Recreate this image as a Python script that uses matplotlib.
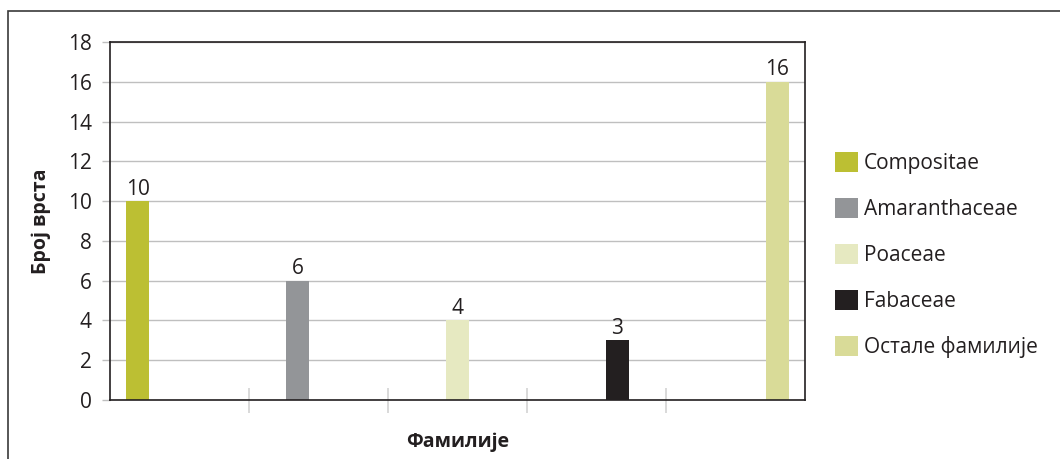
#!/usr/bin/env python3

import matplotlib
matplotlib.use("Agg")
import matplotlib.pyplot as plt
from matplotlib.patches import Patch, Rectangle

families = ['Compositae', 'Amaranthaceae', 'Poaceae', 'Fabaceae', 'Остале фамилије']
species_counts = [10, 6, 4, 3, 16]
bar_colors = ['#BCBF33', '#939598', '#E6E9C1', '#231F20', '#D9DB98']

x_label = "Фамилије"
y_label = "Број врста"
y_ticks = [0, 2, 4, 6, 8, 10, 12, 14, 16, 18]

plt.rcParams['font.family'] = ['Open Sans', 'DejaVu Sans']
text_color = '#231F20'

fig = plt.figure(figsize=(10.6, 4.59), dpi=100)
ax = fig.add_axes([110 / 1060, 59 / 459, 695 / 1060, 358 / 459])

# one series per family, clustered like the original spreadsheet chart
for i, (name, value, color) in enumerate(zip(families, species_counts, bar_colors)):
    pos = i + (i - 2) * 0.15
    bars = ax.bar(pos, value, width=0.165, color=color, label=name, zorder=3)
    ax.bar_label(bars, padding=1, fontsize=15, color=text_color)

ax.set_xlim(-0.5, len(families) - 0.5)
ax.set_ylim(0, 18)
ax.set_yticks(y_ticks)
ax.tick_params(axis='y', labelsize=15, labelcolor=text_color, color='#BFBFBF',
               length=6, width=1, pad=7)
ax.yaxis.grid(True, color='#BFBFBF', linewidth=1, zorder=0)

# category separators below the axis
ax.set_xticks([])
ax.set_xticks([0.5, 1.5, 2.5, 3.5], minor=True)
ax.tick_params(axis='x', which='minor', direction='inout', length=18,
               color='#D3D3D3', width=1.2, labelbottom=False)

for spine in ax.spines.values():
    spine.set_color(text_color)
    spine.set_linewidth(1.2)
    spine.set_zorder(4)

ax.set_xlabel(x_label, fontsize=14, fontweight='bold', color=text_color, labelpad=14)
ax.set_ylabel(y_label, fontsize=14, fontweight='bold', color=text_color, labelpad=12)

handles = [Patch(facecolor=c, edgecolor='none') for c in bar_colors]
fig.legend(handles, families, loc='center left', bbox_to_anchor=(816 / 1060, 0.445),
           frameon=False, fontsize=15, labelspacing=1.15, handlelength=1.1,
           handleheight=1.1, handletextpad=0.3, labelcolor=text_color)

# outer chart frame
fig.patches.append(Rectangle((8 / 1060, -0.1), 1.2, 1.1 - 11 / 459,
                             transform=fig.transFigure, fill=False,
                             edgecolor='#3A3A3A', linewidth=1.2))

fig.savefig("out.png", dpi=100)
